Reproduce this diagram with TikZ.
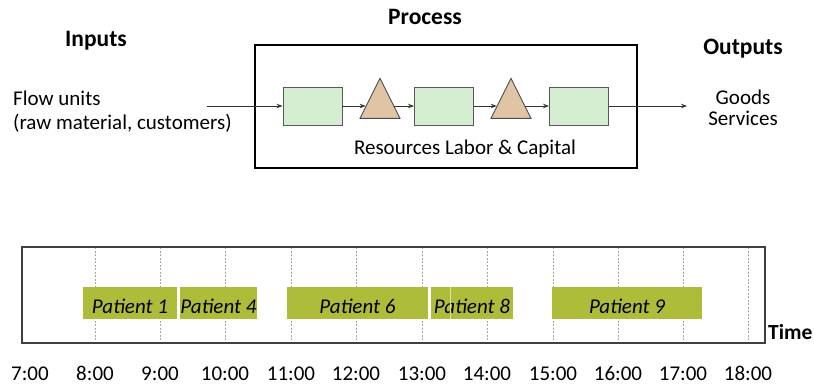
\documentclass[tikz,border=0pt]{standalone}
\usepackage{fontspec}
\setmainfont{Carlito}
\usetikzlibrary{arrows.meta,shapes.geometric}

\definecolor{stagegreen}{HTML}{D5EDD1}
\definecolor{buffertan}{HTML}{DFC5A4}
\definecolor{barolive}{HTML}{ADBD3A}
\definecolor{gridgray}{HTML}{A6A6A6}

\tikzset{
  txt/.style = {font=\fontsize{21}{25}\selectfont, inner sep=0pt},
  head/.style = {font=\fontsize{23.5}{28}\selectfont\bfseries, inner sep=0pt},
  stage/.style = {draw=black!65, fill=stagegreen, line width=0.9pt, minimum width=59pt, minimum height=38pt, inner sep=0pt},
  buffer/.style = {draw=black!70, fill=buffertan, line width=0.9pt, shape=isosceles triangle, isosceles triangle stretches, shape border rotate=90, minimum width=40pt, minimum height=40pt, inner sep=0pt},
  flow/.style = {draw=black!80, line width=0.9pt, -{Stealth[length=6pt,width=4.5pt]}},
  bar/.style = {fill=barolive, minimum height=32pt, inner sep=0pt, text height=20pt, text depth=0pt, font=\fontsize{21}{25}\selectfont\itshape},
  grid/.style = {gridgray, dash pattern=on 2pt off 1.5pt, line width=0.6pt}
}

\begin{document}
\begin{tikzpicture}[x=1pt, y=-1pt]
\useasboundingbox (0,0) rectangle (814,385);

% headings
\node[head, anchor=base] (inputs) at (96,47) {Inputs};
\node[head, anchor=base] (process) at (425,25) {Process};
\node[head, anchor=base] (outputs) at (743,55) {Outputs};

% process box
\draw[line width=2pt] (255,45) rectangle (637,168);
\node[txt, anchor=base] (resources) at (465,155) {Resources Labor \& Capital};

% inputs and outputs
\node[txt, anchor=base west] (flowunits) at (13,106) {Flow units};
\node[txt, anchor=base west] (flowkinds) at (13,130) {(raw material, customers)};
\node[txt, anchor=base] (goods) at (743,105) {Goods};
\node[txt, anchor=base] (services) at (743,126) {Services};
\coordinate (in) at (207,106);
\coordinate (out) at (687,106);

% stages and buffers
\node[stage] (b1) at (312.5,106) {};
\node[buffer] (t1) at (380,106) {};
\node[stage] (b2) at (444,106) {};
\node[buffer] (t2) at (511,106) {};
\node[stage] (b3) at (579,106) {};

\draw[flow] (in) -- (b1.west);
\draw[flow] (b1.east) -- (t1);
\draw[flow] (t1) -- (b2.west);
\draw[flow] (b2.east) -- (t2);
\draw[flow] (t2) -- (b3.west);
\draw[flow] (b3.east) -- (out);

% time grid
\draw[grid] (95,247) -- (95,343);
\draw[grid] (160,247) -- (160,343);
\draw[grid] (225,247) -- (225,343);
\draw[grid] (291,247) -- (291,343);
\draw[grid] (356,247) -- (356,343);
\draw[grid] (422,247) -- (422,343);
\draw[grid] (487,247) -- (487,343);
\draw[grid] (553,247) -- (553,343);
\draw[grid] (618,247) -- (618,343);
\draw[grid] (683,247) -- (683,343);
\draw[grid] (748,247) -- (748,343);

% patients
\node[bar, minimum width=94pt] (p1) at (130,303) {Patient 1};
\node[bar, minimum width=75pt] (p4) at (218.5,303) {Patient 4};
\node[bar, minimum width=141pt] (p6) at (357.5,303) {Patient 6};
\node[bar, minimum width=82pt] (p8) at (472,303) {Patient 8};
\node[bar, minimum width=150pt] (p9) at (627,303) {Patient 9};
\draw[white!55!barolive, line width=0.6pt] (450,287) -- (450,319);

\draw[black!75, line width=1.5pt] (22,247) rectangle (765,343);
\node[font=\fontsize{21.5}{25}\selectfont\bfseries, inner sep=0pt, anchor=base west] (time) at (768,339) {Time};

% hours
\node[txt, anchor=base] (h7) at (30,380) {7:00};
\node[txt, anchor=base] (h8) at (95,380) {8:00};
\node[txt, anchor=base] (h9) at (160,380) {9:00};
\node[txt, anchor=base] (h10) at (225,380) {10:00};
\node[txt, anchor=base] (h11) at (291,380) {11:00};
\node[txt, anchor=base] (h12) at (356,380) {12:00};
\node[txt, anchor=base] (h13) at (422,380) {13:00};
\node[txt, anchor=base] (h14) at (487,380) {14:00};
\node[txt, anchor=base] (h15) at (553,380) {15:00};
\node[txt, anchor=base] (h16) at (618,380) {16:00};
\node[txt, anchor=base] (h17) at (683,380) {17:00};
\node[txt, anchor=base] (h18) at (748,380) {18:00};
\end{tikzpicture}
\end{document}
